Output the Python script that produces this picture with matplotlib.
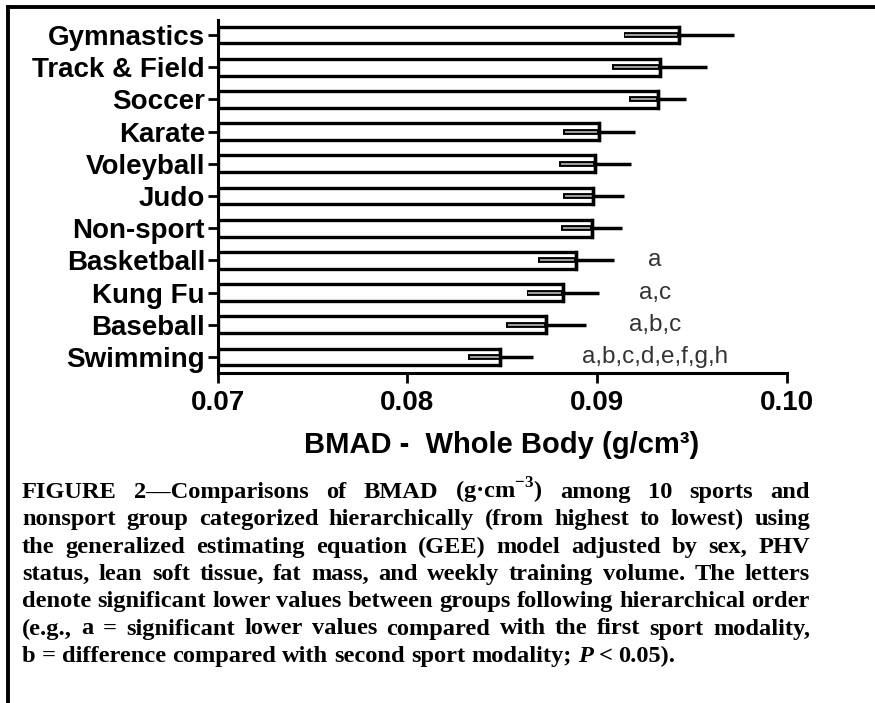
import matplotlib
matplotlib.use('Agg')
import matplotlib.pyplot as plt
import numpy as np
from matplotlib.lines import Line2D

# ---------------- data ----------------
sports = ['Gymnastics', 'Track & Field', 'Soccer', 'Karate', 'Voleyball', 'Judo',
          'Non-sport', 'Basketball', 'Kung Fu', 'Baseball', 'Swimming']
bmad = [0.0943, 0.0933, 0.0932, 0.0901, 0.0899, 0.0898, 0.0897, 0.0889, 0.0882, 0.0873, 0.0849]
sem = [0.0029, 0.0025, 0.0015, 0.0019, 0.0019, 0.0016, 0.0016, 0.0020, 0.0019, 0.0021, 0.0017]
letters = ['', '', '', '', '', '', '', 'a', 'a,c', 'a,b,c', 'a,b,c,d,e,f,g,h']
xticks = [0.07, 0.08, 0.09, 0.10]
xticklabels = ['0.07', '0.08', '0.09', '0.10']
xlabel = 'BMAD -  Whole Body (g/cm³)'
caption_lines = [
    "FIGURE 2—Comparisons of BMAD (g·cm$^{\\mathbf{-3}}$) among 10 sports and",
    "nonsport group categorized hierarchically (from highest to lowest) using",
    "the generalized estimating equation (GEE) model adjusted by sex, PHV",
    "status, lean soft tissue, fat mass, and weekly training volume. The letters",
    "denote significant lower values between groups following hierarchical order",
    "(e.g., a = significant lower values compared with the first sport modality,",
    "b = difference compared with second sport modality; P < 0.05).",
]

plt.rcParams['mathtext.fontset'] = 'custom'
plt.rcParams['mathtext.rm'] = 'Liberation Serif'
plt.rcParams['mathtext.bf'] = 'Liberation Serif:bold'

W, H = 875, 703
fig = plt.figure(figsize=(W / 100, H / 100), dpi=100)
ax = fig.add_axes([217.6 / W, 1 - 373 / H, (787 - 217.6) / W, (373 - 20) / H])

y = np.arange(len(sports))
x0 = xticks[0]
widths = np.array(bmad) - x0
ax.barh(y, widths, left=x0, height=0.52, color='white', edgecolor='black',
        linewidth=2.4, zorder=2)

for yi, m, e in zip(y, bmad, sem):
    ax.plot([m, m + e], [yi, yi], color='black', lw=2.5, solid_capstyle='butt', zorder=3)
    ax.plot([m - e, m], [yi, yi], color='black', lw=4.2, solid_capstyle='butt', zorder=3)
    ax.plot([m - e + 0.00008, m - 0.0001], [yi, yi], color='#a0a0a0', lw=1.4,
            solid_capstyle='butt', zorder=4)
    ax.plot([m, m], [yi - 0.26, yi + 0.26], color='black', lw=2.4, zorder=5)

for yi, lab in zip(y, letters):
    if lab:
        ax.text(0.09305, yi, lab, ha='center', va='center', fontsize=17.5,
                family='Liberation Sans', color='#333333')

ax.set_xlim(xticks[0], xticks[-1])
ax.set_ylim(len(sports) - 0.5, -0.47)
ax.set_xticks(xticks)
ax.set_xticklabels(xticklabels, fontsize=20, fontweight='bold', family='Liberation Sans')
ax.set_yticks(y)
ax.set_yticklabels(sports, fontsize=20, fontweight='bold', family='Liberation Sans')
ax.tick_params(axis='x', length=7, width=2, pad=5)
ax.tick_params(axis='y', length=7, width=2, pad=2)
for s in ['top', 'right']:
    ax.spines[s].set_visible(False)
for s in ['left', 'bottom']:
    ax.spines[s].set_linewidth(2.2)

fig.text(502 / W, 1 - 445 / H, xlabel, ha='center', va='center', fontsize=21,
         fontweight='bold', family='Liberation Sans')

# --------- caption (justified) ---------
fig.canvas.draw()
renderer = fig.canvas.get_renderer()
left_px, right_px = 22, 810
base0, dy = 498, 27.3

def make_words(line, fs):
    out = []
    for w in line.split(' '):
        style = 'italic' if w == 'P' else 'normal'
        t = fig.text(0, 0, w, fontsize=fs, fontweight='bold', family='Liberation Serif',
                     style=style, va='baseline', ha='left')
        out.append(t)
    return out

probe_fs = 10.0
max_ratio = 0
for line in caption_lines:
    ts = make_words(line, probe_fs)
    tot = sum(t.get_window_extent(renderer).width for t in ts)
    nat = tot + (len(ts) - 1) * 0.25 * probe_fs * 100 / 72
    max_ratio = max(max_ratio, nat / (right_px - left_px))
    for t in ts:
        t.remove()
cap_fs = min(probe_fs / max_ratio, 19.0)

for i, line in enumerate(caption_lines):
    texts = make_words(line, cap_fs)
    wds = [t.get_window_extent(renderer).width for t in texts]
    total = sum(wds)
    last = (i == len(caption_lines) - 1)
    if last:
        gap = 0.25 * cap_fs * 100 / 72
    else:
        gap = (right_px - left_px - total) / (len(texts) - 1)
    xpos = left_px
    yb = 1 - (base0 + i * dy) / H
    for t, wd in zip(texts, wds):
        t.set_position((xpos / W, yb))
        xpos += wd + gap

# --------- frame lines ---------
fig.add_artist(Line2D([8 / W, 1], [1 - 7 / H, 1 - 7 / H], color='black', lw=2.8,
                      transform=fig.transFigure))
fig.add_artist(Line2D([8 / W, 8 / W], [0, 1 - 7 / H], color='black', lw=2.8,
                      transform=fig.transFigure))

fig.savefig('out.png', dpi=100)
